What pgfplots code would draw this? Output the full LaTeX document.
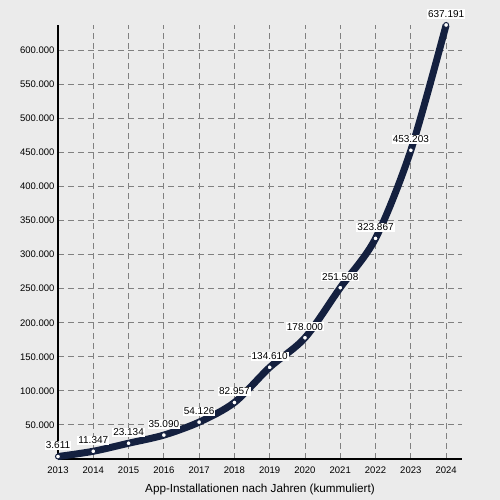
\documentclass[border=0pt]{standalone}
\usepackage{pgfplots}
\pgfplotsset{compat=1.18}
\usepackage{fontspec}
\setmainfont{Liberation Sans}
\definecolor{bg}{HTML}{EBEBEB}
\definecolor{navy}{HTML}{14203F}
\definecolor{gridgray}{HTML}{808080}
\begin{document}
\begin{tikzpicture}
\fill[bg] (-58pt,-41pt) rectangle (442pt,459pt);
\begin{axis}[
    at={(0,0)}, anchor=south west,
    scale only axis,
    width=404pt, height=434pt,
    xmin=2013, xmax=2024.45,
    ymin=0, ymax=637191,
    axis x line*=bottom,
    axis y line*=left,
    axis line style={line width=2pt, black, -},
    xtick={2013,...,2024},
    ytick={50000,100000,...,600000},
    major tick length=0pt,
    scaled y ticks=false,
    xticklabel style={/pgf/number format/1000 sep=, font=\fontsize{9.5}{11}\selectfont, yshift=-4pt},
    yticklabel style={/pgf/number format/fixed, /pgf/number format/precision=0, /pgf/number format/1000 sep={.}, font=\fontsize{9.5}{11}\selectfont},
    /pgf/number format/assume math mode=true,
    grid=major,
    major grid style={gridgray, line width=0.9pt, dash pattern=on 6pt off 4pt},
    xlabel={App-Installationen nach Jahren (kummuliert)},
    xlabel style={font=\fontsize{11.7}{13}\selectfont, yshift=-4pt},
    clip=false,
    nodes near coords,
    every node near coord/.append style={/pgf/number format/fixed, /pgf/number format/precision=0, /pgf/number format/1000 sep={.}, anchor=center, yshift=11pt, fill=white, inner sep=1pt, text=black, font=\fontsize{10}{11}\selectfont},
]
\addplot[
    color=navy,
    line width=7pt,
    smooth,
    mark=*,
    mark size=2.5pt,
    mark options={fill=white, draw=navy, line width=1pt},
    ]
    coordinates {
    (2013,3611)(2014,11347)(2015,23134)(2016,35090)(2017,54126)(2018,82957)
    (2019,134610)(2020,178000)(2021,251508)(2022,323867)(2023,453203)(2024,637191)
    };
\end{axis}
\end{tikzpicture}
\end{document}
